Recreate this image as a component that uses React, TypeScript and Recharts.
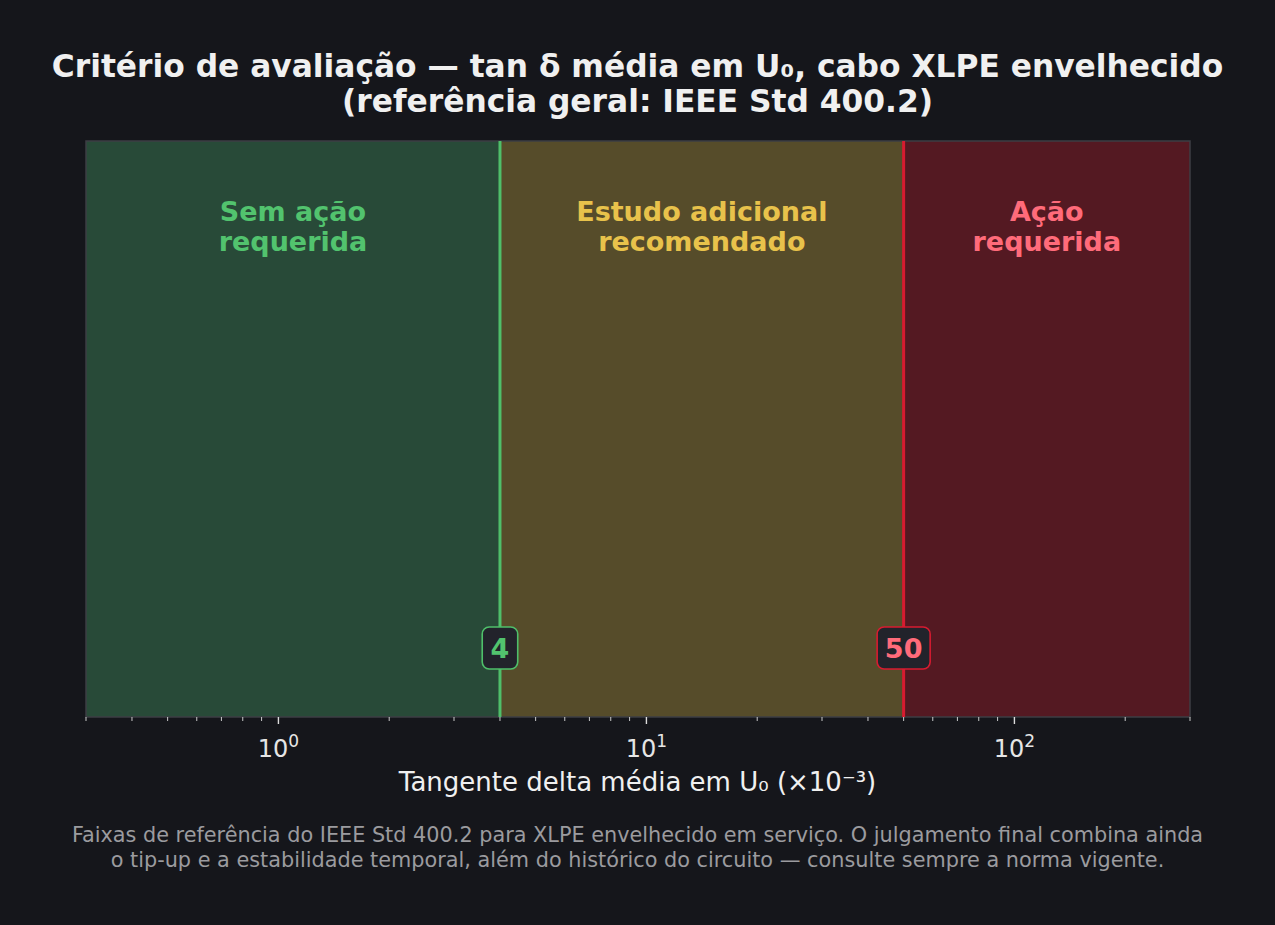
import { ComposedChart, XAxis, YAxis, ReferenceArea, ReferenceLine } from "recharts";

const FONT = "'DejaVu Sans', 'Liberation Sans', sans-serif";

const BAND_TITLES = [
    ["Sem ação", "requerida"],
    ["Estudo adicional", "recomendado"],
    ["Ação", "requerida"],
];
const BAND_FROM = [0.3, 4, 50];
const BAND_TO = [4, 50, 300];
const BAND_FILL = ["#284a38", "#564c2a", "#541922"];
const BAND_TEXT = ["#52c36e", "#e8c24b", "#ff6b7a"];

const THRESHOLDS = [4, 50];
const THRESHOLD_LINE = ["#4fbf6a", "#d81b30"];
const THRESHOLD_TEXT = ["#52c36e", "#ff6b7a"];

const X_TICKS = [
    0.3, 0.4, 0.5, 0.6, 0.7, 0.8, 0.9, 1, 2, 3, 4, 5, 6, 7, 8, 9, 10, 20, 30,
    40, 50, 60, 70, 80, 90, 100, 200, 300,
];

const BG = "#15161b";

const chartData = BAND_FROM.map((from, i) => ({ x: from, to: BAND_TO[i], y: 0.5 }));

function isDecade(v: number) {
    const l = Math.log10(v);
    return Math.abs(l - Math.round(l)) < 1e-9;
}

function LogTick(props: any) {
    const { x, y, payload } = props;
    const v = payload.value;
    const major = isDecade(v);
    return (
        <g>
            <line
                x1={x}
                x2={x}
                y1={y}
                y2={y + (major ? 7 : 4)}
                stroke="#dcdcdc"
                strokeWidth={major ? 1.4 : 0.9}
            />
            {major && (
                <text
                    x={x}
                    y={y + 40}
                    textAnchor="middle"
                    fill="#e6e6e6"
                    fontFamily={FONT}
                    fontSize={24}
                >
                    10
                    <tspan fontSize={17} dy={-10}>
                        {Math.round(Math.log10(v))}
                    </tspan>
                </text>
            )}
        </g>
    );
}

function bandLabel(i: number) {
    return (props: any) => {
        const vb = props.viewBox;
        const cx = vb.x + vb.width / 2;
        return (
            <text
                textAnchor="middle"
                fill={BAND_TEXT[i]}
                fontFamily={FONT}
                fontWeight="bold"
                fontSize={27}
            >
                <tspan x={cx} y={vb.y + 80}>
                    {BAND_TITLES[i][0]}
                </tspan>
                <tspan x={cx} y={vb.y + 110}>
                    {BAND_TITLES[i][1]}
                </tspan>
            </text>
        );
    };
}

function thresholdBadge(i: number) {
    return (props: any) => {
        const vb = props.viewBox;
        const cx = vb.x;
        const cy = vb.y + vb.height - 69;
        const txt = String(THRESHOLDS[i]);
        const w = txt.length * 17.5 + 18;
        const h = 42;
        return (
            <g>
                <rect
                    x={cx - w / 2}
                    y={cy - h / 2}
                    width={w}
                    height={h}
                    rx={7}
                    fill="#22232b"
                    stroke={THRESHOLD_LINE[i]}
                    strokeWidth={1.6}
                />
                <text
                    x={cx}
                    y={cy + 10}
                    textAnchor="middle"
                    fill={THRESHOLD_TEXT[i]}
                    fontFamily={FONT}
                    fontWeight="bold"
                    fontSize={27}
                >
                    {txt}
                </text>
            </g>
        );
    };
}

export default function App() {
    return (
        <div
            style={{
                position: "absolute",
                left: 0,
                top: 0,
                width: 1275,
                height: 925,
                background: BG,
                fontFamily: FONT,
                overflow: "hidden",
            }}
        >
            <div
                style={{
                    position: "absolute",
                    top: 49,
                    left: 0,
                    width: 1275,
                    textAlign: "center",
                    color: "#f0f0f0",
                    fontWeight: "bold",
                    fontSize: 31.3,
                    lineHeight: "35px",
                }}
            >
                Critério de avaliação — tan δ média em U₀, cabo XLPE envelhecido
                <br />
                (referência geral: IEEE Std 400.2)
            </div>

            <ComposedChart
                width={1275}
                height={925}
                data={chartData}
                margin={{ top: 141, right: 85, bottom: 148, left: 86 }}
                style={{ position: "absolute", left: 0, top: 0 }}
            >
                <XAxis
                    type="number"
                    dataKey="x"
                    scale="log"
                    domain={[0.3, 300]}
                    ticks={X_TICKS}
                    interval={0}
                    allowDataOverflow
                    height={60}
                    tickSize={0}
                    tickMargin={0}
                    axisLine={false}
                    tick={<LogTick />}
                />
                <YAxis
                    type="number"
                    dataKey="y"
                    domain={[0, 1]}
                    allowDataOverflow
                    hide
                />
                {BAND_FROM.map((from, i) => (
                    <ReferenceArea
                        key={`band-${i}`}
                        x1={from}
                        x2={BAND_TO[i]}
                        y1={0}
                        y2={1}
                        fill={BAND_FILL[i]}
                        fillOpacity={1}
                        stroke="none"
                        ifOverflow="extendDomain"
                        label={bandLabel(i)}
                    />
                ))}
                <ReferenceArea
                    x1={0.3}
                    x2={300}
                    y1={0}
                    y2={1}
                    fill="none"
                    stroke="#3d3e44"
                    strokeWidth={1.5}
                    ifOverflow="extendDomain"
                />
                {THRESHOLDS.map((t, i) => (
                    <ReferenceLine
                        key={`thr-${i}`}
                        x={t}
                        stroke={THRESHOLD_LINE[i]}
                        strokeWidth={3}
                        ifOverflow="extendDomain"
                        label={thresholdBadge(i)}
                    />
                ))}
            </ComposedChart>

            <div
                style={{
                    position: "absolute",
                    top: 766,
                    left: 0,
                    width: 1275,
                    textAlign: "center",
                    color: "#f0f0f0",
                    fontSize: 26,
                    lineHeight: "32px",
                }}
            >
                Tangente delta média em U₀ (×10⁻³)
            </div>

            <div
                style={{
                    position: "absolute",
                    top: 823,
                    left: 0,
                    width: 1275,
                    textAlign: "center",
                    color: "#9b9b9f",
                    fontSize: 20.8,
                    lineHeight: "25px",
                }}
            >
                Faixas de referência do IEEE Std 400.2 para XLPE envelhecido em
                serviço. O julgamento final combina ainda
                <br />o tip-up e a estabilidade temporal, além do histórico do
                circuito — consulte sempre a norma vigente.
            </div>
        </div>
    );
}
